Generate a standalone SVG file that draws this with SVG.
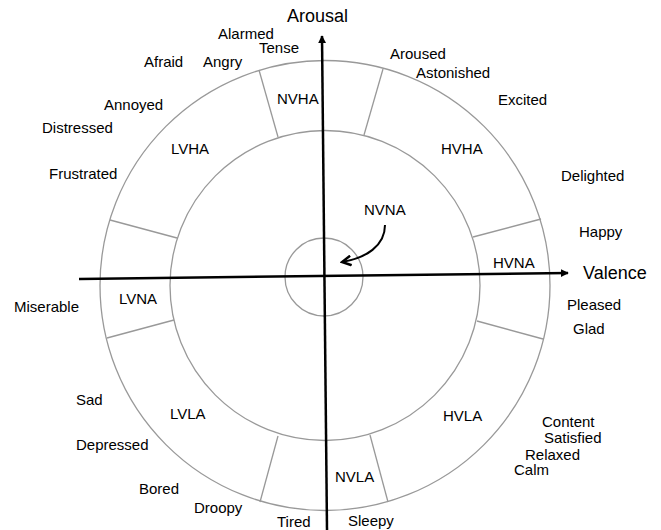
<svg xmlns="http://www.w3.org/2000/svg" width="661" height="530" viewBox="0 0 661 530">
<defs>
<style>
text{font-family:"Liberation Sans",Arial,sans-serif;font-size:15px;fill:#000}
.ax{font-size:18px}
.ring{fill:none;stroke:#999;stroke-width:1.3}
.div{stroke:#999;stroke-width:1.3}
.axis{stroke:#000;stroke-width:2.5;fill:none}
</style>
<marker id="ah" viewBox="0 0 10 10" refX="9" refY="5" markerWidth="8" markerHeight="8" markerUnits="userSpaceOnUse" orient="auto"><path d="M0,0 L10,5 L0,10 z" fill="#000"/></marker>
<marker id="chev" viewBox="0 0 10 10" refX="8.5" refY="5" markerWidth="12" markerHeight="12" markerUnits="userSpaceOnUse" orient="auto"><path d="M1,1 L8.5,5 L1,9" fill="none" stroke="#000" stroke-width="2"/></marker>
</defs>
<rect width="661" height="530" fill="#fff"/>
<g id="rings">
<circle class="ring" cx="325" cy="285.5" r="225"/>
<circle class="ring" cx="325" cy="285.5" r="155"/>
<circle class="ring" cx="324" cy="277" r="39"/>
<line class="div" x1="259" y1="70" x2="278" y2="137"/>
<line class="div" x1="383" y1="69" x2="364" y2="135"/>
<line class="div" x1="110" y1="220" x2="177" y2="238"/>
<line class="div" x1="541" y1="219" x2="473" y2="237"/>
<line class="div" x1="107" y1="338" x2="174" y2="320"/>
<line class="div" x1="543" y1="339" x2="477" y2="321"/>
<line class="div" x1="260" y1="502" x2="278" y2="436"/>
<line class="div" x1="388" y1="502" x2="370" y2="435"/>
</g>
<g id="connectors">
<line class="axis" x1="327" y1="530" x2="322" y2="36" marker-end="url(#ah)"/>
<line class="axis" x1="79" y1="279" x2="568" y2="273" marker-end="url(#ah)"/>
<path d="M385,225 C385,246 366,258 342,262" fill="none" stroke="#000" stroke-width="2" marker-end="url(#chev)"/>
</g>
<g id="axis-labels">
<text class="ax" x="287" y="22">Arousal</text>
<text class="ax" x="583" y="279">Valence</text>
</g>
<g id="regions">
<g id="NVHA"><text x="277" y="104">NVHA</text></g>
<g id="LVHA"><text x="171" y="154">LVHA</text></g>
<g id="HVHA"><text x="441" y="154">HVHA</text></g>
<g id="NVNA"><text x="364" y="215">NVNA</text></g>
<g id="HVNA"><text x="493" y="268">HVNA</text></g>
<g id="LVNA"><text x="119" y="304">LVNA</text></g>
<g id="LVLA"><text x="170" y="419">LVLA</text></g>
<g id="HVLA"><text x="443" y="421">HVLA</text></g>
<g id="NVLA"><text x="335" y="482">NVLA</text></g>
</g>
<g id="emotions">
<text x="218" y="39">Alarmed</text>
<text x="259" y="53">Tense</text>
<text x="144" y="67">Afraid</text>
<text x="203" y="67">Angry</text>
<text x="104" y="110">Annoyed</text>
<text x="42" y="133">Distressed</text>
<text x="49" y="179">Frustrated</text>
<text x="390" y="59">Aroused</text>
<text x="416" y="78">Astonished</text>
<text x="498" y="105">Excited</text>
<text x="561" y="181">Delighted</text>
<text x="579" y="237">Happy</text>
<text x="14" y="312">Miserable</text>
<text x="567" y="310">Pleased</text>
<text x="573" y="334">Glad</text>
<text x="76" y="405">Sad</text>
<text x="76" y="450">Depressed</text>
<text x="139" y="494">Bored</text>
<text x="194" y="513">Droopy</text>
<text x="277" y="527">Tired</text>
<text x="348" y="526">Sleepy</text>
<text x="542" y="427">Content</text>
<text x="544" y="443">Satisfied</text>
<text x="525" y="460">Relaxed</text>
<text x="514" y="475">Calm</text>
</g>
</svg>
